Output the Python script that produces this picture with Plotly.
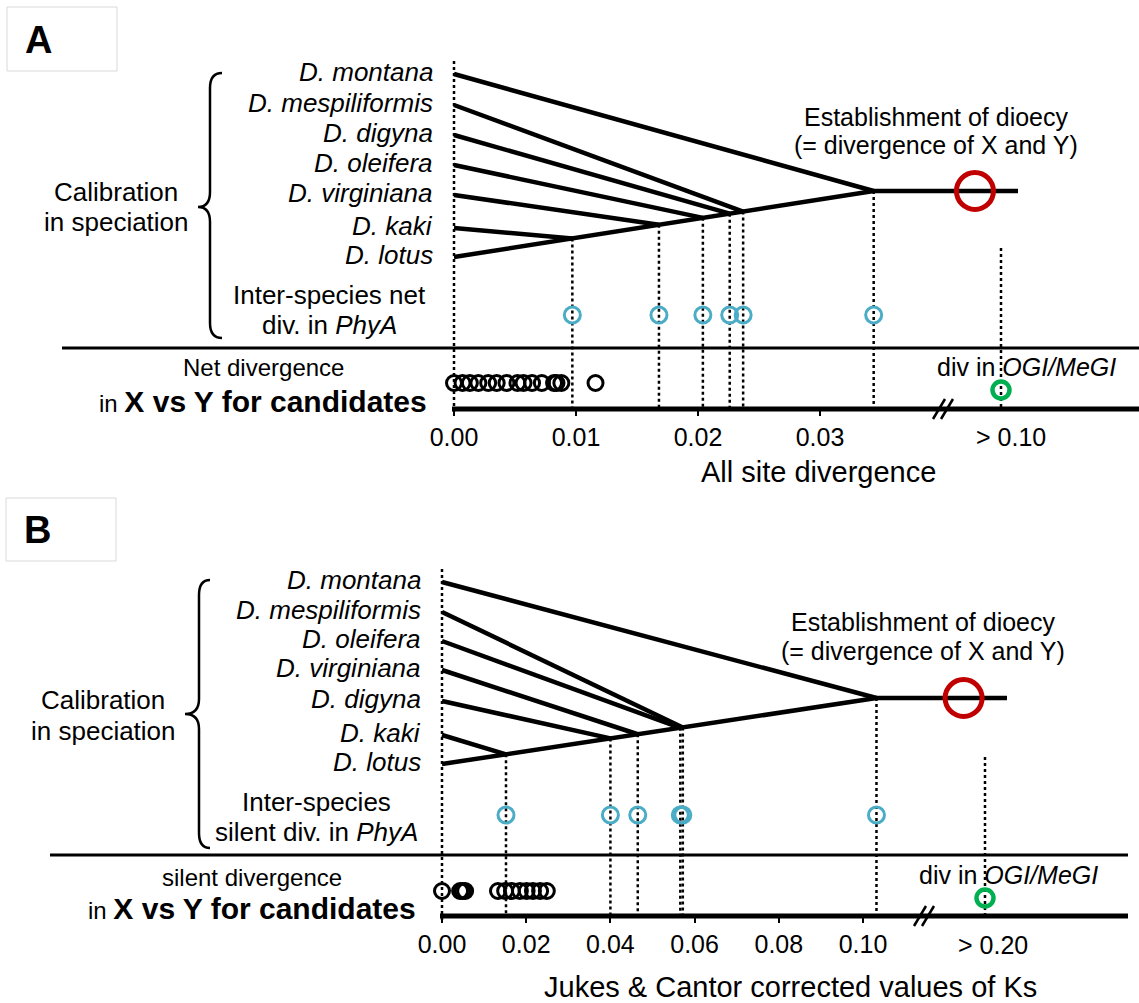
import plotly.graph_objects as go

W, H = 1139, 1003
FONT = "Liberation Sans, Arial, Helvetica, sans-serif"

# ======================= DATA =======================
# Panel A : all-site (net) divergence
species_A = ["D. montana", "D. mespiliformis", "D. digyna", "D. oleifera",
             "D. virginiana", "D. kaki", "D. lotus"]
# inter-species net divergence in PhyA (vs D. lotus), montana ... kaki
phya_div_A = [0.0344, 0.0237, 0.0226, 0.0204, 0.0168, 0.0097]
# X vs Y net divergence of the candidate genes
candidates_div_A = [0.0000, 0.0007, 0.0013, 0.0020, 0.0028, 0.0035, 0.0043, 0.0052,
                    0.0057, 0.0064, 0.0072, 0.0082, 0.0084, 0.0088, 0.0116]
dioecy_A = 0.0427                    # establishment of dioecy (X/Y divergence)
ogi_megi_label_A = "> 0.10"          # OGI/MeGI divergence (beyond axis break)
ticks_A = [0.00, 0.01, 0.02, 0.03]
ticktext_A = ["0.00", "0.01", "0.02", "0.03"]

# Panel B : Jukes & Cantor corrected Ks (silent divergence)
species_B = ["D. montana", "D. mespiliformis", "D. oleifera", "D. virginiana",
             "D. digyna", "D. kaki", "D. lotus"]
phya_div_B = [0.1032, 0.0572, 0.0566, 0.0465, 0.0400, 0.0152]
candidates_div_B = [0.0000, 0.0043, 0.0049, 0.0055, 0.0133, 0.0150, 0.0166, 0.0185,
                    0.0201, 0.0216, 0.0233, 0.0249]
dioecy_B = 0.1239
ogi_megi_label_B = "> 0.20"
ticks_B = [0.00, 0.02, 0.04, 0.06, 0.08, 0.10]
ticktext_B = ["0.00", "0.02", "0.04", "0.06", "0.08", "0.10"]

# ======================= LAYOUT CONSTANTS (pixels) =======================
BLACK, BLUE, RED, GREEN = "#000000", "#4BACC6", "#C00000", "#00B050"

PANELS = {
    "A": dict(x0=454, ppu=12200.0, rows=[74, 105, 135, 165, 195, 228, 257],
              label_right=435, root_y=191, stem_end=1018, blue_y=315, cand_y=383,
              green_y=390, axis_y=409, axis_left=452, axis_right=1139,
              sep_y=348, sep_left=62, sep_right=1139,
              break_px=943, beyond_px=1001, beyond_top=248, zero_top=61,
              beyond_label_px=1011,
              est_x=936, est_y=(117, 145), ogi_x=1026, ogi_y=367,
              tick_label_y=437, title="All site divergence", title_x=818, title_y=472,
              calib_x=116, calib_y=(192, 222),
              inter=("Inter-species net", "div. in <i>PhyA</i>"), inter_x=329, inter_y=(295, 325),
              brace=(198, 210, 222, 73, 207, 338),
              cand_txt=("Net divergence",), cand_x=263, cand_y_txt=(367, 401),
              box=(7, 7, 117, 71), letter_xy=(38, 40)),
    "B": dict(x0=442, ppu=4210.0, rows=[582, 612, 641, 670, 701, 735, 764],
              label_right=423, root_y=698, stem_end=1007, blue_y=815, cand_y=891,
              green_y=898, axis_y=916, axis_left=440, axis_right=1128,
              sep_y=855, sep_left=50, sep_right=1128,
              break_px=924, beyond_px=985, beyond_top=757, zero_top=569,
              beyond_label_px=993,
              est_x=923, est_y=(622, 651), ogi_x=1009, ogi_y=875,
              tick_label_y=945, title="Jukes &amp; Cantor corrected values of Ks",
              title_x=790, title_y=987,
              calib_x=103, calib_y=(700, 731),
              inter=("Inter-species", "silent div. in <i>PhyA</i>"), inter_x=317, inter_y=(802, 832),
              brace=(185, 199, 210, 580, 714, 848),
              cand_txt=("silent divergence",), cand_x=252, cand_y_txt=(877, 908),
              box=(6, 498, 116, 561), letter_xy=(37, 530)),
}


def P(px):
    return px / W


fig = go.Figure()
shapes, annots = [], []


def build(key, xref, species, div, cands, dioecy, beyond_label):
    c = PANELS[key]
    val = lambda px: (px - c["x0"]) / c["ppu"]
    rows = c["rows"]
    root = div[0]
    lotus_y = rows[-1]

    def backbone_y(d):
        return lotus_y + (c["root_y"] - lotus_y) * d / root

    # ---- tree branches ----
    xs, ys = [], []
    for i, d in enumerate(div):
        xs += [0, d, None]
        ys += [rows[i], backbone_y(d), None]
    xs += [0, root, val(c["stem_end"]), None]
    ys += [lotus_y, c["root_y"], c["root_y"], None]
    fig.add_trace(go.Scatter(x=xs, y=ys, xaxis=xref, yaxis="y", mode="lines",
                             line=dict(color=BLACK, width=4.5), hoverinfo="skip"))

    # ---- dotted guide lines ----
    dx, dy = [0, 0, None], [c["zero_top"], c["axis_y"] + 4, None]
    for d in div:
        dx += [d, d, None]
        dy += [backbone_y(d), c["axis_y"], None]
    bx = val(c["beyond_px"])
    dx += [bx, bx, None]
    dy += [c["beyond_top"], c["axis_y"], None]
    fig.add_trace(go.Scatter(x=dx, y=dy, xaxis=xref, yaxis="y", mode="lines",
                             line=dict(color=BLACK, width=2.5, dash="dot"), hoverinfo="skip"))

    # ---- markers ----
    fig.add_trace(go.Scatter(x=div, y=[c["blue_y"]] * len(div), xaxis=xref, yaxis="y",
                             mode="markers", cliponaxis=False,
                             marker=dict(symbol="circle-open", size=16, color=BLUE,
                                         line=dict(width=3, color=BLUE))))
    fig.add_trace(go.Scatter(x=cands, y=[c["cand_y"]] * len(cands), xaxis=xref, yaxis="y",
                             mode="markers", cliponaxis=False,
                             marker=dict(symbol="circle-open", size=15, color=BLACK,
                                         line=dict(width=3, color=BLACK))))
    fig.add_trace(go.Scatter(x=[bx], y=[c["green_y"]], xaxis=xref, yaxis="y",
                             mode="markers", cliponaxis=False,
                             marker=dict(symbol="circle-open", size=17, color=GREEN,
                                         line=dict(width=4.5, color=GREEN))))
    fig.add_trace(go.Scatter(x=[dioecy], y=[c["root_y"]], xaxis=xref, yaxis="y",
                             mode="markers", cliponaxis=False,
                             marker=dict(symbol="circle-open", size=37, color=RED,
                                         line=dict(width=5, color=RED))))

    # ---- shapes ----
    shapes.append(dict(type="line", xref="paper", yref="y", x0=P(c["sep_left"]), x1=P(c["sep_right"]),
                       y0=c["sep_y"], y1=c["sep_y"], line=dict(color=BLACK, width=3)))
    shapes.append(dict(type="line", xref="paper", yref="y", x0=P(c["axis_left"]), x1=P(c["axis_right"]),
                       y0=c["axis_y"], y1=c["axis_y"], line=dict(color=BLACK, width=5)))
    for off in (-4, 4):
        bxp = c["break_px"] + off
        shapes.append(dict(type="line", xref="paper", yref="y", x0=P(bxp - 6), x1=P(bxp + 6),
                           y0=c["axis_y"] + 10, y1=c["axis_y"] - 10, line=dict(color=BLACK, width=2.5)))
    tipx, vx, endx, top, tipy, bot = c["brace"]
    path = (f"M {P(endx)},{top} Q {P(vx)},{top} {P(vx)},{top+15} L {P(vx)},{tipy-15} "
            f"Q {P(vx)},{tipy} {P(tipx)},{tipy} Q {P(vx)},{tipy} {P(vx)},{tipy+15} "
            f"L {P(vx)},{bot-15} Q {P(vx)},{bot} {P(endx)},{bot}")
    shapes.append(dict(type="path", xref="paper", yref="y", path=path,
                       line=dict(color=BLACK, width=2.5)))
    x0b, y0b, x1b, y1b = c["box"]
    shapes.append(dict(type="rect", xref="paper", yref="y", x0=P(x0b), x1=P(x1b), y0=y0b, y1=y1b,
                       line=dict(color="#D9D9D9", width=1)))

    # ---- text ----
    def note(text, x, y, size, xanchor="center", **kw):
        annots.append(dict(text=text, x=P(x), y=y, xref="paper", yref="y", showarrow=False,
                           xanchor=xanchor, yanchor="middle",
                           font=dict(family=FONT, size=size, color=BLACK), **kw))

    note(f"<b>{key}</b>", c["letter_xy"][0], c["letter_xy"][1], 38)
    for name, yy in zip(species, rows):
        note(f"<i>{name}</i>", c["label_right"], yy - 2, 26, xanchor="right")
    note("Calibration", c["calib_x"], c["calib_y"][0], 26)
    note("in speciation", c["calib_x"], c["calib_y"][1], 26)
    note(c["inter"][0], c["inter_x"], c["inter_y"][0], 26)
    note(c["inter"][1], c["inter_x"], c["inter_y"][1], 26)
    note("Establishment of dioecy", c["est_x"], c["est_y"][0], 25)
    note("(= divergence of X and Y)", c["est_x"], c["est_y"][1], 25)
    note(c["cand_txt"][0], c["cand_x"], c["cand_y_txt"][0], 24)
    note("in <span style='font-size:30px'><b>X vs Y for candidates</b></span>",
         c["cand_x"], c["cand_y_txt"][1], 24)
    note("div in <i>OGI/MeGI</i>", c["ogi_x"], c["ogi_y"], 25)
    note(beyond_label, c["beyond_label_px"], c["tick_label_y"], 25)
    note(c["title"], c["title_x"], c["title_y"], 29)

    return [val(0), val(W)], 1 - c["axis_y"] / H


rA, posA = build("A", "x", species_A, phya_div_A, candidates_div_A, dioecy_A, ogi_megi_label_A)
rB, posB = build("B", "x2", species_B, phya_div_B, candidates_div_B, dioecy_B, ogi_megi_label_B)

axis_common = dict(domain=[0, 1], showgrid=False, zeroline=False, showline=False,
                   ticks="outside", ticklen=6, tickwidth=2, tickcolor=BLACK,
                   tickfont=dict(family=FONT, size=25, color=BLACK),
                   ticklabelstandoff=0, anchor="free", fixedrange=True)

fig.update_layout(
    width=W, height=H, margin=dict(l=0, r=0, t=0, b=0),
    paper_bgcolor="white", plot_bgcolor="rgba(0,0,0,0)", showlegend=False,
    xaxis=dict(range=rA, position=posA, tickvals=ticks_A, ticktext=ticktext_A, **axis_common),
    xaxis2=dict(range=rB, position=posB, tickvals=ticks_B, ticktext=ticktext_B,
                overlaying="x", **axis_common),
    yaxis=dict(range=[H, 0], domain=[0, 1], visible=False, fixedrange=True),
    shapes=shapes, annotations=annots,
)

fig.write_html("out.html")
